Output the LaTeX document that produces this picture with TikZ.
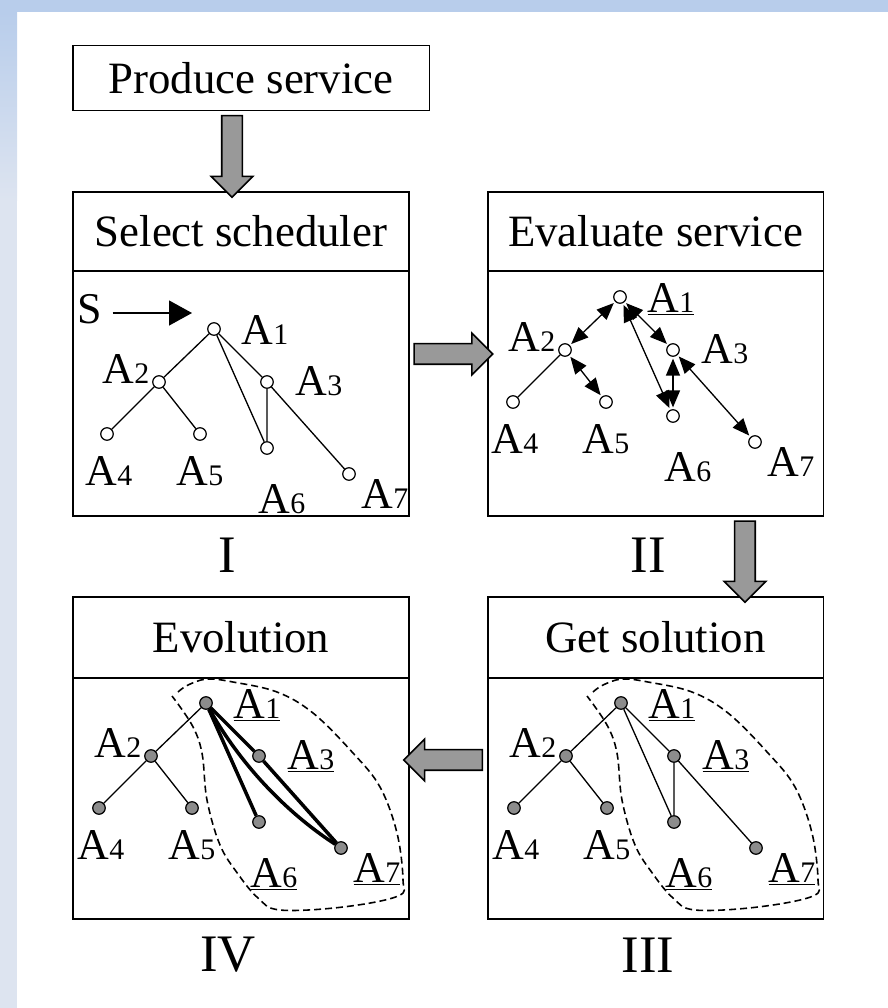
\documentclass[tikz,border=0pt]{standalone}
\usepackage{fontspec}
\setmainfont{Liberation Serif}
\usetikzlibrary{positioning,calc,shapes.arrows,arrows.meta}

\definecolor{bandtop}{HTML}{B8CDEB}
\definecolor{bandlow}{HTML}{DDE4F0}
\definecolor{arrgray}{HTML}{999999}
\definecolor{vertgray}{HTML}{8C8C8C}

\newcommand{\ttlfont}{\fontsize{25.5}{30}\selectfont}
\newcommand{\numfont}{\fontsize{30}{36}\selectfont}
\newcommand{\labfont}{\fontsize{25}{29}\selectfont}
% agent label: A with small index, underlined version
\newcommand{\ag}[1]{A{\fontsize{17}{20}\selectfont #1}}
\newcommand{\agu}[1]{\underline{\ag{#1}}}

\tikzset{
	header/.style={draw, line width=1.1pt, fill=white, outer sep=0pt, inner sep=0pt,
		minimum width=6.72cm, minimum height=1.58cm, font=\ttlfont},
	body/.style={draw, line width=1.1pt, fill=white, outer sep=0pt, inner sep=0pt,
		minimum width=6.72cm, minimum height=4.9cm},
	blockarr/.style={single arrow, draw, line width=0.9pt, fill=arrgray, outer sep=0pt,
		inner xsep=0pt, inner ysep=0.19cm, single arrow head extend=0.21cm,
		single arrow tip angle=90, anchor=center},
	vert/.style={circle, draw, line width=0.7pt, fill=white, minimum size=0.25cm, inner sep=0pt},
	vfill/.style={vert, fill=vertgray},
	lab/.style={font=\labfont, inner sep=0pt, anchor=base},
	edge/.style={line width=0.75pt},
	heavy/.style={line width=2pt},
	twoway/.style={line width=0.75pt, shorten <=1pt, shorten >=1pt,
		{Triangle[length=0.34cm,width=0.28cm]}-{Triangle[length=0.34cm,width=0.28cm]}},
	sarrow/.style={line width=0.75pt, -{Triangle[length=0.46cm,width=0.5cm]}},
	region/.style={line width=0.9pt, dash pattern=on 0.14cm off 0.08cm}
}

% fat gray arrow from #2 to #3, named #1
\newcommand{\blockarrow}[3]{%
	\path let \p1=(#2), \p2=(#3),
	\n1={veclen(\x2-\x1,\y2-\y1)}, \n2={atan2(\y2-\y1,\x2-\x1)} in
	node[blockarr, minimum height=\n1, rotate=\n2] (#1) at ($(\p1)!0.5!(\p2)$) {};}

\begin{document}
\begin{tikzpicture}[x=0.02cm, y=-0.02cm]
	
	% page background
	\useasboundingbox (0,0) rectangle (888,1008);
	\fill[bandtop] (0,0) rectangle (888,12);
	\shade[top color=bandtop, bottom color=bandlow] (0,12) rectangle (17,200);
	\fill[bandlow] (0,200) rectangle (17,1008);
	
	% boxes
	\node[header, minimum width=7.14cm, minimum height=1.3cm] (produce) at (251,78) {Produce service};
	\node[header] (sel) at (241,231.5) {Select scheduler};
	\node[body, below=0pt of sel] (selbody) {};
	\node[header] (eval) at (655.5,231.5) {Evaluate service};
	\node[body, below=0pt of eval] (evalbody) {};
	\node[header, minimum height=1.62cm] (evo) at (241,637.5) {Evolution};
	\node[body, minimum height=4.82cm, below=0pt of evo] (evobody) {};
	\node[header, minimum height=1.62cm] (sol) at (655.5,637.5) {Get solution};
	\node[body, minimum height=4.82cm, below=0pt of sol] (solbody) {};
	
	% step numbers
	\node[font=\numfont] (stepI) at (227,555) {I};
	\node[font=\numfont] (stepII) at (648,555) {II};
	\node[font=\numfont] (stepIII) at (648,955) {III};
	\node[font=\numfont] (stepIV) at (228,955) {IV};
	
	% fat arrows between the steps
	\blockarrow{toSel}{[xshift=-0.38cm]produce.south}{[xshift=-0.18cm]sel.north}
	\blockarrow{toEval}{[yshift=0.79cm]selbody.east}{[yshift=0.79cm]evalbody.west}
	\blockarrow{toSol}{[xshift=1.79cm]evalbody.south}{[xshift=1.79cm]sol.north}
	\blockarrow{toEvo}{[yshift=0.77cm]solbody.west}{[yshift=0.77cm]evobody.east}
	
	% I: select scheduler
	\node[vert] (a1) at (214,329) {};
	\node[vert] (a2) at (159,382) {};
	\node[vert] (a3) at (267,382) {};
	\node[vert] (a4) at (107,434) {};
	\node[vert] (a5) at (200,434) {};
	\node[vert] (a6) at (267,448) {};
	\node[vert] (a7) at (349,474) {};
	\draw[edge] (a1) -- (a2) (a2) -- (a4) (a2) -- (a5) (a1) -- (a3)
	(a3) -- (a7) (a1) -- (a6) (a3) -- (a6);
	\node[lab] (la1) at (265,344) {\ag{1}};
	\node[lab] (la2) at (126,383) {\ag{2}};
	\node[lab] (la3) at (319,395) {\ag{3}};
	\node[lab] (la4) at (109,485) {\ag{4}};
	\node[lab] (la5) at (200,485) {\ag{5}};
	\node[lab] (la6) at (282,513) {\ag{6}};
	\node[lab] (la7) at (385,508) {\ag{7}};
	\node[lab] (s) at (90,323) {S};
	\coordinate (stip) at (192,313);
	\draw[sarrow, shorten <=0.2cm] (s.east |- stip) -- (stip);
	
	% II: evaluate service
	\begin{scope}[shift={(406,-32)}]
	\node[vert] (b1) at (214,329) {};
	\node[vert] (b2) at (159,382) {};
	\node[vert] (b3) at (267,382) {};
	\node[vert] (b4) at (107,434) {};
	\node[vert] (b5) at (200,434) {};
	\node[vert] (b6) at (267,448) {};
	\node[vert] (b7) at (349,474) {};
	\draw[edge] (b2) -- (b4);
	\draw[twoway] (b1) -- (b2);
	\draw[twoway] (b2) -- (b5);
	\draw[twoway] (b1) -- (b3);
	\draw[twoway] (b1) -- (b6);
	\draw[twoway] (b3) -- (b6);
	\draw[twoway] (b3) -- (b7);
	\node[lab] (lb1) at (265,344) {\agu{1}};
	\node[lab] (lb2) at (126,383) {\ag{2}};
	\node[lab] (lb3) at (319,395) {\ag{3}};
	\node[lab] (lb4) at (109,485) {\ag{4}};
	\node[lab] (lb5) at (200,485) {\ag{5}};
	\node[lab] (lb6) at (282,513) {\ag{6}};
	\node[lab] (lb7) at (385,508) {\ag{7}};
	\end{scope}
	
	% III: get solution
	\begin{scope}[shift={(407,374)}]
	\draw[region] plot[smooth, tension=0.6] coordinates {(186,318) (196,311) (215,305)
		(241,308) (285,318) (321,339) (361,379) (388,413) (405,459) (411,506)
		(406,522) (351,533) (288,536) (266,524) (246,500) (228,471) (215,426)
		(210,379) (200,351) (180,322)};
	\node[vfill] (c1) at (214,329) {};
	\node[vfill] (c2) at (159,382) {};
	\node[vfill] (c3) at (267,382) {};
	\node[vfill] (c4) at (107,434) {};
	\node[vfill] (c5) at (200,434) {};
	\node[vfill] (c6) at (267,448) {};
	\node[vfill] (c7) at (349,474) {};
	\draw[edge] (c1) -- (c2) (c2) -- (c4) (c2) -- (c5) (c1) -- (c3)
	(c3) -- (c7) (c1) -- (c6) (c3) -- (c6);
	\node[lab] (lc1) at (265,344) {\agu{1}};
	\node[lab] (lc2) at (126,383) {\ag{2}};
	\node[lab] (lc3) at (319,395) {\agu{3}};
	\node[lab] (lc4) at (109,485) {\ag{4}};
	\node[lab] (lc5) at (200,485) {\ag{5}};
	\node[lab] (lc6) at (282,513) {\agu{6}};
	\node[lab] (lc7) at (385,508) {\agu{7}};
	\end{scope}
	
	% IV: evolution
	\begin{scope}[shift={(-8,374)}]
	\draw[region] plot[smooth, tension=0.6] coordinates {(186,318) (196,311) (215,305)
		(241,308) (285,318) (321,339) (361,379) (388,413) (405,459) (411,506)
		(406,522) (351,533) (288,536) (266,524) (246,500) (228,471) (215,426)
		(210,379) (200,351) (180,322)};
	\node[vfill] (d1) at (214,329) {};
	\node[vfill] (d2) at (159,382) {};
	\node[vfill] (d3) at (267,382) {};
	\node[vfill] (d4) at (107,434) {};
	\node[vfill] (d5) at (200,434) {};
	\node[vfill] (d6) at (267,448) {};
	\node[vfill] (d7) at (349,474) {};
	\draw[edge] (d1) -- (d2) (d2) -- (d4) (d2) -- (d5);
	\draw[heavy] (d1) -- (d3) -- (d7);
	\draw[heavy] (d1) -- (d6);
	\draw[heavy] (d1) .. controls (247,388) and (292,437) .. (d7);
	\node[lab] (ld1) at (265,344) {\agu{1}};
	\node[lab] (ld2) at (126,383) {\ag{2}};
	\node[lab] (ld3) at (319,395) {\agu{3}};
	\node[lab] (ld4) at (109,485) {\ag{4}};
	\node[lab] (ld5) at (200,485) {\ag{5}};
	\node[lab] (ld6) at (282,513) {\agu{6}};
	\node[lab] (ld7) at (385,508) {\agu{7}};
	\end{scope}
	
\end{tikzpicture}
\end{document}
